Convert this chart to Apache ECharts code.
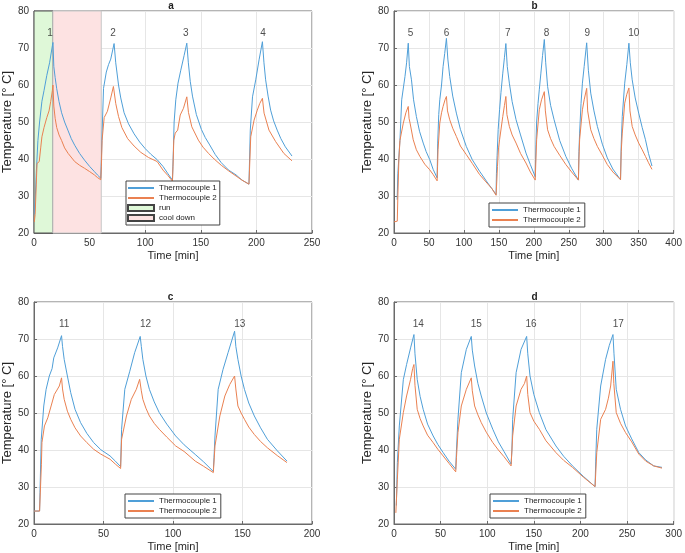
<!DOCTYPE html>
<html><head><meta charset="utf-8">
<script src="https://cdn.jsdelivr.net/npm/echarts@6/dist/echarts.min.js"></script>
<style>html,body{margin:0;padding:0;background:#fff}#c{width:685px;height:553px}</style>
</head><body><div id="c"></div>
<script>
// ---------- data ----------
const panelTitles = ['a', 'b', 'c', 'd'];
const xMaxes = [250, 400, 200, 300];
const yTicks = [20, 30, 40, 50, 60, 70, 80];
const seriesNames = ['Thermocouple 1', 'Thermocouple 2'];
const runPhase = [0, 17];
const coolPhase = [17, 60.5];
const labelY = 74;

const aT1 = [[0.3,25],[1.2,30],[2,36],[3.5,45],[5,50],[7.1,55.6],[9,58.5],[11.5,62.6],[14,66],[16.5,70.6],[17,71.5],
[17.8,65],[19,62],[20.4,59],[22.5,55.5],[24.8,52.5],[27.5,50],[30.7,47.6],[33.5,45.5],[36.6,43.7],[41,41.5],[45.4,39.7],[50,38],[54.3,36.6],[57,35.7],[60,34.8],
[60.6,40],[61.3,47.6],[62.5,59.1],[65,63.5],[67,65.5],[69,67],[72,71.2],
[73.5,66],[76,60],[78,56.5],[81,52.5],[85,49.5],[90,46.8],[95,44.6],[100,42.8],[105,41.3],[110.8,39.8],[116,38],[120.5,36],[124.5,34.3],
[125.3,42],[126,50],[127.5,56],[129.5,60.5],[132,64],[135,68],[137.4,71.3],
[138.8,66],[140.5,61],[142.5,57],[146,52],[150.5,48],[154,45.8],[158,43.8],[163,41.2],[168.4,39],[175,37],[181.7,35.7],[187,34.3],[193.3,33.2],
[194.5,47.8],[196.5,56.8],[199.4,61.4],[202.4,66.8],[205.4,71.7],
[206.8,66],[208.3,61.4],[210.5,57],[212.8,53.2],[215.5,50.3],[218.7,47.8],[222,45.5],[226,43.3],[232,40.8]];
const aT2 = [[0.3,23],[1,25],[2,33],[2.7,38.8],[4.7,39.3],[6,43],[7.1,46],[9,48.5],[11.5,51.2],[13.5,53],[15,55.5],[16.5,58.5],[17,60],
[17.8,54.3],[19,51],[20.4,48.5],[22.5,46.5],[24.8,45],[27.5,43],[30.7,41.5],[36.6,39.3],[41,38.3],[45.4,37.5],[50,36.6],[54.3,35.7],[57,35],[60,34.4],
[60.6,38],[61.2,45],[63.1,51.2],[66,52.9],[69,56.5],[71.4,59.6],[72,60],
[73.5,55],[76,51.5],[79,48.5],[84.2,45.5],[90,43.5],[96,41.8],[103,40.4],[110.8,39.3],[116,37],[120.5,35.5],[124.5,34],
[125,38],[125.7,45.1],[127,47],[129.2,47.8],[131.5,51.9],[134.4,53.7],[137.4,56.8],
[138.9,52.6],[141.9,48.7],[147.8,45.1],[152,43.2],[157,41.5],[162,40],[168.4,38.3],[175,36.8],[181.7,35.4],[187,34.3],[193.3,33.2],
[194.9,46],[197.9,50.5],[200.8,53.2],[203,55],[205.4,56.4],
[206.9,52.4],[211.3,47.8],[217.3,44.7],[224.7,41.5],[232,39.5]];

const bT1 = [[4.5,29],[5.5,36],[7.6,42.5],[8.5,45],[11,56],[15.7,62.3],[18,66],[20.4,71.3],
[22,65],[25,61.4],[28,56],[32,51.5],[36.5,47.5],[41.8,44.3],[46,42],[51.2,39.8],[56,37.2],[61.7,34.9],
[62.5,44.3],[64,52],[65.5,56],[68,60],[70.2,65],[72.5,68.5],[75,72.6],
[77,67],[79.7,62.3],[84,57],[89.2,52.4],[95,48],[103.4,43.4],[112,39.8],[122.4,36.7],[133,33.8],[140,32],[146,30.4],
[146.5,36],[147.5,41],[149,48],[151,53.3],[153,58],[155.6,63.2],[158,67.5],[160,71.2],
[162,65],[165,60.5],[169,55.5],[174.6,50.6],[181,46.5],[188.8,41.6],[195,38.5],[202,35.2],
[203,44],[204,50],[206,55],[207.8,58.7],[210,63],[212.5,68],[215,72.3],
[217,66],[219.7,59.6],[224,54.5],[229,50.6],[237,45],[245.8,40.7],[254,37.5],[263.8,34.3],
[264.5,42],[265.5,47],[267.5,55],[269.5,60.5],[272,65],[275.6,71.4],
[278,64],[281.4,57.8],[286,53],[290.9,48.8],[298,44],[305.1,40.3],[313,37.3],[324,34.4],
[325,44],[326.5,51.5],[330,60.5],[333,65.5],[336,71.3],
[338,66],[340.7,61.4],[345,56.5],[350,52.4],[355,48.5],[359.7,45.2],[364,41.5],[369,38.1]];
const bT2 = [[0,23],[4.7,23.2],[5.5,30],[7,40],[8.5,45],[10,46.5],[13.3,49.7],[17,52.5],[20.4,54.2],
[21.5,51],[23,49.7],[27.5,45.2],[32,42.5],[37,40.7],[44,38.6],[51,37.1],[56,35.8],[61.7,34.1],
[62.3,38],[63,42.5],[65.5,49.7],[68,52.5],[70.2,54.2],[73,56],[75,56.9],
[76.5,53],[79.7,50.6],[84,48.3],[89.2,46.1],[95,43.5],[103.4,41.2],[112,38.8],[122.4,35.8],[133,33.5],[140,32],[146,30.2],
[147,34],[148,38],[149.5,43],[151,45.2],[155.6,51.5],[158,54.5],[160,56.9],
[161.5,52],[165,48.8],[169,46.5],[174.6,44.3],[181,41.5],[188.8,38.9],[195,36.5],[202,34.3],
[203,40],[204,45.2],[207.8,53.3],[211,56],[215,58.2],
[216.5,53],[219.7,47.9],[224,45.5],[229,43.4],[237,41],[245.8,38.5],[254,36.5],[263.8,34.3],
[264.5,40],[265.5,45.2],[269.5,53.3],[272,56],[275.6,59.1],
[277,53],[281.4,47.9],[286,45.5],[290.9,43.4],[298,41],[305.1,38.5],[313,36.5],[324,34.4],
[325,42],[326.5,47],[330,55.1],[333,57.5],[336,59.2],
[337.5,53],[340.7,48.8],[345,46.5],[350,44.3],[355,42.5],[359.7,40.7],[364,39],[369,37.2]];

const cT1 = [[0,23.5],[4,23.5],[4.3,28.5],[5.2,42.9],[7,51.9],[8.7,56.4],[11,60],[13,62],[14.2,64.9],[17,67.6],[19.8,70.9],
[20.5,68],[21.7,64.5],[24,60],[26.4,55.5],[29.5,51],[33.5,47.4],[38,44.5],[42.9,42],[48,40.1],[54.7,38.4],[58.5,37],[62.3,35.5],
[63,45.6],[65.3,56.4],[68.9,61.3],[72.4,66.3],[76.4,70.7],
[77.2,68],[78.3,64.5],[80.5,60],[83,56.4],[86.5,53],[90.1,50.1],[95.5,47],[101.9,43.8],[108,41.4],[116,38.8],[122,36.8],[129,34.2],
[129.5,38],[130.2,43.8],[132.5,56.4],[136,61.8],[139.6,66.3],[144.3,72.1],
[145.2,68],[146.7,64.5],[149,60],[151.4,56.4],[154.5,52.7],[158.5,49.2],[163,46],[167.9,42.9],[175,39.8],[182,37]];
const cT2 = [[0,23.5],[4,23.5],[4.5,23.2],[5.3,36],[5.7,42],[7.5,46.5],[9.9,48.7],[12.3,51.9],[14.6,55],[16.5,56.2],[18.2,57.3],[19.8,59.5],
[20.5,56.5],[21.7,53.7],[24,50.5],[26.4,48.3],[29.5,46],[33.5,43.8],[38,42],[42.9,40.2],[48,38.9],[54.7,37.5],[58.5,36.2],[62.3,35],
[63,42.9],[66.5,49.2],[70,53.7],[73.6,56.4],[76,59.1],
[77.2,56],[78.3,53.7],[80.5,51.3],[83,49.2],[86.5,47.2],[90.1,45.6],[95.5,43.5],[101.9,41.1],[108,39.6],[116,37],[122,35.6],[129,33.9],
[130.2,41.1],[133.7,49.2],[137.3,54.6],[140.8,57.7],[144.3,60],
[145.2,56.5],[146.7,51.9],[149,50],[151.4,48.3],[154.5,46.2],[158.5,44.2],[163,42.3],[167.9,40.6],[175,38.5],[182,36.6]];

const dT1 = [[2.5,25],[3.6,36.6],[5.7,46.5],[10,59],[13.5,63.1],[17.8,67.6],[21.4,71.2],
[22.5,66],[24.9,59.1],[28,54.5],[31.3,51],[36,47],[42,43.8],[47,41.5],[52.7,39.3],[59,37],[66.2,34.8],
[67,40],[68.6,48.3],[72.2,60.9],[77.6,67.2],[82.9,70.7],
[84,67],[86.5,62.7],[90,58],[93.6,54.6],[99,50],[106,45.6],[112,42.2],[118,39.6],[125.6,36.2],
[126.5,40],[127.3,48.3],[131,60.9],[136.3,67.2],[142.3,70.7],
[143.5,66],[145.9,60],[150,55],[155.9,50.1],[163,45.5],[173.7,41.1],[182,38.3],[191.5,35.7],[203,32.9],[215.7,30.1],
[216.4,37],[217.5,45.6],[221.7,57.3],[227,64.5],[231,68.3],[234.9,71.2],
[236,66],[238.4,56.4],[243,51],[248.4,46.5],[255,43],[262.6,39.3],[270,37.3],[278.6,35.7],[287.5,35.3]];
const dT2 = [[2,23],[3,23.5],[3.6,32.1],[5.7,42.9],[10,50.1],[13.5,54.6],[17.8,59.1],[20,62],[21.4,63.1],
[22.5,57.5],[24.9,51],[28,48.5],[31.3,46.5],[36,44],[42,42],[47,40.2],[52.7,38.4],[59,36.4],[66.2,34.1],
[67,38],[68.6,44.7],[72.2,51.9],[77.6,56.4],[82.9,59.5],
[84,56],[86.5,51.9],[90,49.5],[93.6,47.4],[99,44.8],[106,42],[112,40],[118,38.2],[125.6,35.7],
[127.3,43.8],[131,51.9],[136.3,56.4],[140,58],[142.3,60],
[143.5,55],[145.9,50.1],[150,47.8],[155.9,45.6],[163,42.5],[173.7,39.3],[182,37.2],[191.5,35.3],[203,32.7],[215.7,30.1],
[217.5,39.3],[221.7,48.3],[227,51],[230,54],[232.4,57.3],[234.9,64],
[235.8,58],[238.4,50.1],[243,47.2],[248.4,44.7],[255,42.2],[262.6,38.9],[270,37],[278.6,35.7],[287.5,35.1]];

const aPeakT = [14.5, 71, 136.5, 206];
const aPeakTxt = ['1', '2', '3', '4'];
const bPeakT = [23.7, 75, 162.7, 218, 276.6, 343];
const bPeakTxt = ['5', '6', '7', '8', '9', '10'];
const cPeakT = [21.7, 80.2, 148];
const cPeakTxt = ['11', '12', '13'];
const dPeakT = [26, 88.3, 147, 240.6];
const dPeakTxt = ['14', '15', '16', '17'];

// ---------- chart ----------
const T1s = [aT1, bT1, cT1, dT1];
const T2s = [aT2, bT2, cT2, dT2];
const peakTs = [aPeakT, bPeakT, cPeakT, dPeakT];
const peakTxts = [aPeakTxt, bPeakTxt, cPeakTxt, dPeakTxt];

const FONT = '"Liberation Sans", Arial, Helvetica, sans-serif';
const C1 = '#4f9fd8', C2 = '#ea8151';
const gridBoxes = [
  {left: 30, top: 11, width: 282, height: 222},
  {left: 394, top: 11, width: 281, height: 222},
  {left: 29, top: 302, width: 283, height: 223},
  {left: 394, top: 302, width: 281, height: 223}
];

const grid = [], xAxis = [], yAxis = [], series = [], title = [];
gridBoxes.forEach((g, i) => {
  grid.push(Object.assign({show: true, borderColor: '#6a6a6a', borderWidth: 1, backgroundColor: 'transparent', containLabel: false}, g));
  title.push({text: panelTitles[i], left: g.left + g.width / 2, top: g.top - 10, textAlign: 'center', padding: 0,
    textStyle: {fontFamily: FONT, fontSize: 10, fontWeight: 'bold', color: '#222', lineHeight: 10}});
  xAxis.push({type: 'value', gridIndex: i, min: 0, max: xMaxes[i], interval: 50,
    name: 'Time [min]', nameLocation: 'middle', nameGap: 17,
    nameTextStyle: {fontFamily: FONT, fontSize: 11, color: '#262626'},
    axisLine: {show: true, lineStyle: {color: '#6a6a6a', width: 1}},
    axisTick: {show: true, inside: true, length: 3, lineStyle: {color: '#6a6a6a'}},
    axisLabel: {fontFamily: FONT, fontSize: 10, color: '#333', margin: 5},
    splitLine: {show: true, lineStyle: {color: '#e6e6e6', width: 1}}});
  yAxis.push({type: 'value', gridIndex: i, min: yTicks[0], max: yTicks[yTicks.length - 1], interval: 10,
    name: 'Temperature [\u00B0 C]', nameLocation: 'middle', nameGap: 19,
    nameTextStyle: {fontFamily: FONT, fontSize: 13, color: '#262626'},
    axisLine: {show: true, lineStyle: {color: '#6a6a6a', width: 1}},
    axisTick: {show: true, inside: true, length: 3, lineStyle: {color: '#6a6a6a'}},
    axisLabel: {fontFamily: FONT, fontSize: 10, color: '#333', margin: 5},
    splitLine: {show: true, lineStyle: {color: '#e6e6e6', width: 1}}});
  series.push({name: seriesNames[0], type: 'line', xAxisIndex: i, yAxisIndex: i, data: T1s[i],
    symbol: 'none', z: 3, lineStyle: {color: C1, width: 1}, itemStyle: {color: C1}});
  series.push({name: seriesNames[1], type: 'line', xAxisIndex: i, yAxisIndex: i, data: T2s[i],
    symbol: 'none', z: 3, lineStyle: {color: C2, width: 1}, itemStyle: {color: C2}});
  series.push({type: 'scatter', xAxisIndex: i, yAxisIndex: i, symbolSize: 0, silent: true, z: 4,
    data: peakTs[i].map((t, k) => ({name: peakTxts[i][k], value: [t, labelY]})),
    label: {show: true, position: 'inside', formatter: '{b}', fontFamily: FONT, fontSize: 10, color: '#222'}});
});

// run / cool down patches in panel a
series.push({name: 'run', type: 'line', xAxisIndex: 0, yAxisIndex: 0, data: [], z: 1, symbol: 'none',
  lineStyle: {color: '#dff8d8', width: 0},
  itemStyle: {color: '#dff8d8', borderColor: '#444', borderWidth: 1},
  markArea: {silent: true, itemStyle: {color: '#dff8d8', borderColor: '#555', borderWidth: 1},
    data: [[{xAxis: runPhase[0]}, {xAxis: runPhase[1]}]]}});
series.push({name: 'cool down', type: 'line', xAxisIndex: 0, yAxisIndex: 0, data: [], z: 1, symbol: 'none',
  lineStyle: {color: '#fde2e2', width: 0},
  itemStyle: {color: '#fde2e2', borderColor: '#444', borderWidth: 1},
  markArea: {silent: true, itemStyle: {color: '#fde2e2', borderColor: '#c8c8c8', borderWidth: 1},
    data: [[{xAxis: coolPhase[0]}, {xAxis: coolPhase[1]}]]}});

const lineItems = seriesNames.map(n => ({name: n, itemStyle: {opacity: 0}}));
const legendBase = {orient: 'vertical', itemWidth: 26, itemHeight: 6, itemGap: 0,
  borderColor: '#444', borderWidth: 1, backgroundColor: '#fff', borderRadius: 0,
  selectedMode: false,
  textStyle: {fontFamily: FONT, fontSize: 8, color: '#222', lineHeight: 10}};
const legend = [
  Object.assign({}, legendBase, {left: 126, top: 181, padding: [2, 3, 2, 1],
    data: lineItems.concat([{name: 'run', icon: 'rect'}, {name: 'cool down', icon: 'rect'}])}),
  Object.assign({}, legendBase, {left: 489, top: 203, padding: [2, 4, 2, 2], data: lineItems}),
  Object.assign({}, legendBase, {left: 125, top: 494, padding: [2, 4, 2, 2], data: lineItems}),
  Object.assign({}, legendBase, {left: 490, top: 494, padding: [2, 4, 2, 2], data: lineItems})
];

const chart = echarts.init(document.getElementById('c'), null, {renderer: 'canvas'});
chart.setOption({animation: false, backgroundColor: '#fff', title, grid, xAxis, yAxis, series, legend});
</script>
</body></html>
